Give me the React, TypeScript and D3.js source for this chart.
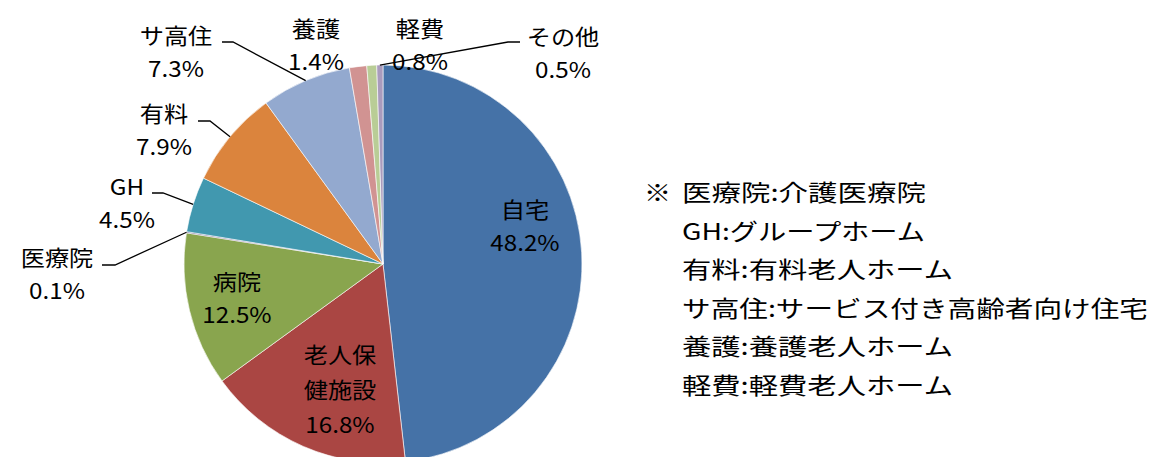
import React from "react";
import * as d3 from "d3";

// ---- data ----
const categories = ["自宅", "老人保健施設", "病院", "医療院", "GH", "有料", "サ高住", "養護", "軽費", "その他"];
const labelLines = [["自宅"], ["老人保", "健施設"], ["病院"], ["医療院"], ["GH"], ["有料"], ["サ高住"], ["養護"], ["軽費"], ["その他"]];
const values = [48.2, 16.8, 12.5, 0.1, 4.5, 7.9, 7.3, 1.4, 0.8, 0.5];
const colors = ["#4572A7", "#AA4643", "#89A54E", "#71588F", "#4198AF", "#DB843D", "#93A9CF", "#D19392", "#B9CD96", "#A99BBD"];
const notePrefix = "※";
const notes = [
  "医療院:介護医療院",
  "GH:グループホーム",
  "有料:有料老人ホーム",
  "サ高住:サービス付き高齢者向け住宅",
  "養護:養護老人ホーム",
  "軽費:軽費老人ホーム",
];

// ---- layout (positions / styles) ----
const W = 1153;
const H = 457;
const cx = 383;
const cy = 264;
const R = 199;
const FONT = "'Noto Sans CJK JP', 'Noto Sans', sans-serif";
const labelLayout: { x: number; y: number; elbow?: [number, number][] }[] = [
  { x: 525, y: 208 },
  { x: 340, y: 353 },
  { x: 237, y: 280 },
  { x: 57, y: 256, elbow: [[102, 265], [115, 265]] },
  { x: 127, y: 185, elbow: [[152, 193], [163, 193]] },
  { x: 164, y: 112, elbow: [[198, 121], [210, 121]] },
  { x: 176, y: 34, elbow: [[222, 42], [233, 42]] },
  { x: 316, y: 27 },
  { x: 420, y: 27 },
  { x: 563, y: 35, elbow: [[520, 42], [508, 42]] },
];
const noteX = 682;
const noteTop = 191;
const noteStep = 38.5;
const noteWidths = [244, 243, 271, 466, 271, 271];

function Line({ x, y, text, size }: { x: number; y: number; text: string; size: number }) {
  const sx = 1.1;
  return (
    <text
      transform={`translate(${x},${y}) scale(${sx},1)`}
      textAnchor="middle"
      dominantBaseline="central"
      fontSize={size}
      fontFamily={FONT}
      fill="#000"
    >
      {text}
    </text>
  );
}

export default function App() {
  const pie = d3
    .pie<number>()
    .sort(null)
    .value((d) => d)
    .startAngle(0)
    .endAngle(2 * Math.PI);
  const arcs = pie(values);
  const arc = d3.arc<d3.PieArcDatum<number>>().innerRadius(0).outerRadius(R);
  const edgeArc = d3.arc<d3.PieArcDatum<number>>().innerRadius(R).outerRadius(R);
  const fmt = d3.format(".1f");

  return (
    <svg
      width={W}
      height={H}
      style={{ position: "absolute", left: 0, top: 0, background: "#fff" }}
    >
      <g transform={`translate(${cx},${cy})`}>
        {arcs.map((a, i) => (
          <path key={categories[i]} d={arc(a) || ""} fill={colors[i]} stroke="#fff" strokeWidth={0.6} />
        ))}
      </g>
      {arcs.map((a, i) => {
        const L = labelLayout[i];
        if (!L.elbow) return null;
        const [ex, ey] = edgeArc.centroid(a);
        const pts = [...L.elbow, [cx + ex, cy + ey]];
        return (
          <polyline
            key={"l" + i}
            points={pts.map((p) => p.join(",")).join(" ")}
            fill="none"
            stroke="#000"
            strokeWidth={1.3}
          />
        );
      })}
      {arcs.map((a, i) => {
        const L = labelLayout[i];
        const lines = [...labelLines[i], fmt(values[i]) + "%"];
        const lh = lines.length > 2 ? 35 : 33.5;
        return (
          <g key={"t" + i}>
            {lines.map((t, j) => (
              <Line key={j} x={L.x} y={L.y + j * lh} text={t} size={22} />
            ))}
          </g>
        );
      })}
      <text x={644} y={noteTop} dominantBaseline="central" fontSize={23} fontFamily={FONT} fill="#000"
        textLength={27} lengthAdjust="spacingAndGlyphs">
        {notePrefix}
      </text>
      {notes.map((t, i) => (
        <text
          key={t}
          x={noteX}
          y={noteTop + i * noteStep}
          dominantBaseline="central"
          fontSize={23}
          fontFamily={FONT}
          fill="#000"
          textLength={noteWidths[i]}
          lengthAdjust="spacingAndGlyphs"
        >
          {t}
        </text>
      ))}
    </svg>
  );
}
